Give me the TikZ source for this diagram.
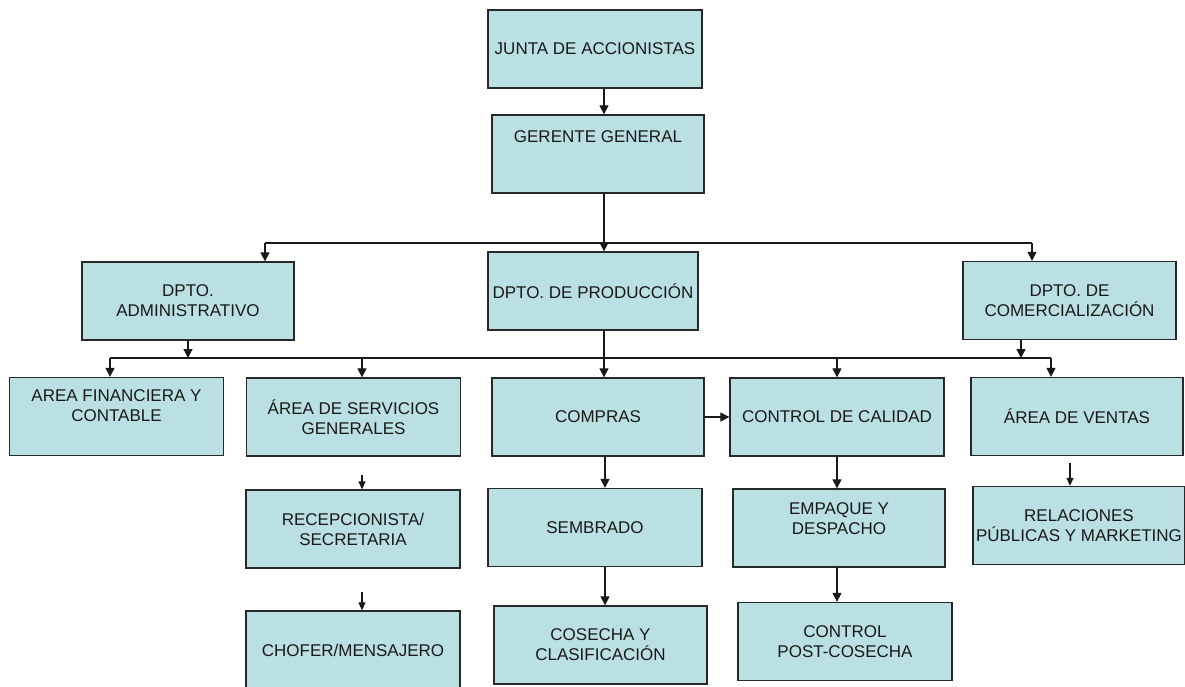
\documentclass[tikz,border=0pt]{standalone}
\usepackage{fontspec}
\setmainfont{Liberation Sans}
\usetikzlibrary{arrows.meta,calc}
\definecolor{boxfill}{RGB}{187,224,227}
\definecolor{boxline}{RGB}{40,40,40}
\definecolor{txt}{RGB}{25,25,25}
\begin{document}
\begin{tikzpicture}[x=1pt,y=-1pt,
  box/.style={draw=boxline, fill=boxfill, line width=1.3pt, minimum width=#1, minimum height=78pt, inner sep=0pt, align=center, font=\fontsize{17}{20}\selectfont, text=txt},
  box/.default=213pt,
  lab/.style={align=center, font=\fontsize{17}{20}\selectfont, text=txt, inner sep=0pt},
  ln/.style={line width=1.2pt, draw=black!90},
  arr/.style={ln, -{Triangle[length=9pt,width=9pt]}},
  sarr/.style={ln, -{Triangle[length=8pt,width=7pt]}}]
\useasboundingbox[fill=white] (0,0) rectangle (1185,686);

% boxes
\node[box=214pt] (junta) at (595,49) {JUNTA DE ACCIONISTAS};
\node[box=212pt, label={[lab, name=gerT, yshift=17pt]center:GERENTE GENERAL}] (gerente) at (598,154) {};
\node[box=212pt] (admin) at (188,301) {DPTO.\\ADMINISTRATIVO};
\node[box=210pt] (prod) at (593,291) {DPTO. DE PRODUCCIÓN};
\node[box=213pt] (comerc) at (1069.5,300.5) {DPTO. DE\\COMERCIALIZACIÓN};
\node[box=214pt, label={[lab, name=finT, yshift=11pt]center:AREA FINANCIERA Y\\CONTABLE}] (finan) at (116.5,416.5) {};
\node[box=214pt] (serv) at (353.5,417) {ÁREA DE SERVICIOS\\GENERALES};
\node[box=212pt] (compras) at (598,417) {COMPRAS};
\node[box=214pt] (calidad) at (837,417) {CONTROL DE CALIDAD};
\node[box=212pt] (ventas) at (1077,416.5) {ÁREA DE VENTAS};
\node[box=214pt] (recep) at (353,529) {RECEPCIONISTA/\\SECRETARIA};
\node[box=214pt] (sembrado) at (595,527.5) {SEMBRADO};
\node[box=212pt, label={[lab, name=empT, yshift=9pt]center:EMPAQUE Y\\DESPACHO}] (empaque) at (839,528) {};
\node[box=212pt] (relac) at (1079,525.5) {RELACIONES\\PÚBLICAS Y MARKETING};
\node[box=214pt] (chofer) at (353,650) {CHOFER/MENSAJERO};
\node[box=213pt] (cosecha) at (600.5,645) {COSECHA Y\\CLASIFICACIÓN};
\node[box=214pt] (post) at (845,641.5) {CONTROL\\POST-COSECHA};

% connectors
\coordinate (sp) at (604,0);
\coordinate (sp2) at (605,0);
\draw[arr] (junta.south -| sp) -- (gerente.north -| sp);
\draw[arr] (gerente.south -| sp) -- (prod.north -| sp);
\coordinate (bA) at (265,243);
\coordinate (bB) at (1032,243);
\draw[ln] (bA) -- (bB);
\draw[arr] (bA) -- (bA |- admin.north);
\draw[arr] (bB) -- (bB |- comerc.north);
\coordinate (cL) at (110,358);
\coordinate (cR) at (1051,358);
\coordinate (cs) at (362,358);
\coordinate (cc) at (837,358);
\coordinate (cm) at (1021,358);
\draw[ln] (cL) -- (cR);
\draw[arr] (admin.south) -- (admin.south |- cL);
\draw[arr] (comerc.south -| cm) -- (cm);
\draw[arr] (cL) -- (cL |- finan.north);
\draw[arr] (cs) -- (cs |- serv.north);
\draw[arr] (prod.south -| sp) -- (compras.north -| sp);
\draw[arr] (cc) -- (cc |- calidad.north);
\draw[arr] (cR) -- (cR |- ventas.north);
\draw[arr] (compras.east) -- (calidad.west);
\draw[arr] (compras.south -| sp2) -- (sembrado.north -| sp2);
\draw[arr] (sembrado.south -| sp2) -- (cosecha.north -| sp2);
\draw[arr] (calidad.south -| cc) -- (empaque.north -| cc);
\draw[arr] (empaque.south -| cc) -- (post.north -| cc);
\coordinate (r1) at (362,475);
\coordinate (r2) at (362,592);
\coordinate (r3) at (1070,463);
\draw[sarr] (r1) -- (r1 |- recep.north);
\draw[sarr] (r2) -- (r2 |- chofer.north);
\draw[sarr] (r3) -- (r3 |- relac.north);
\end{tikzpicture}
\end{document}
